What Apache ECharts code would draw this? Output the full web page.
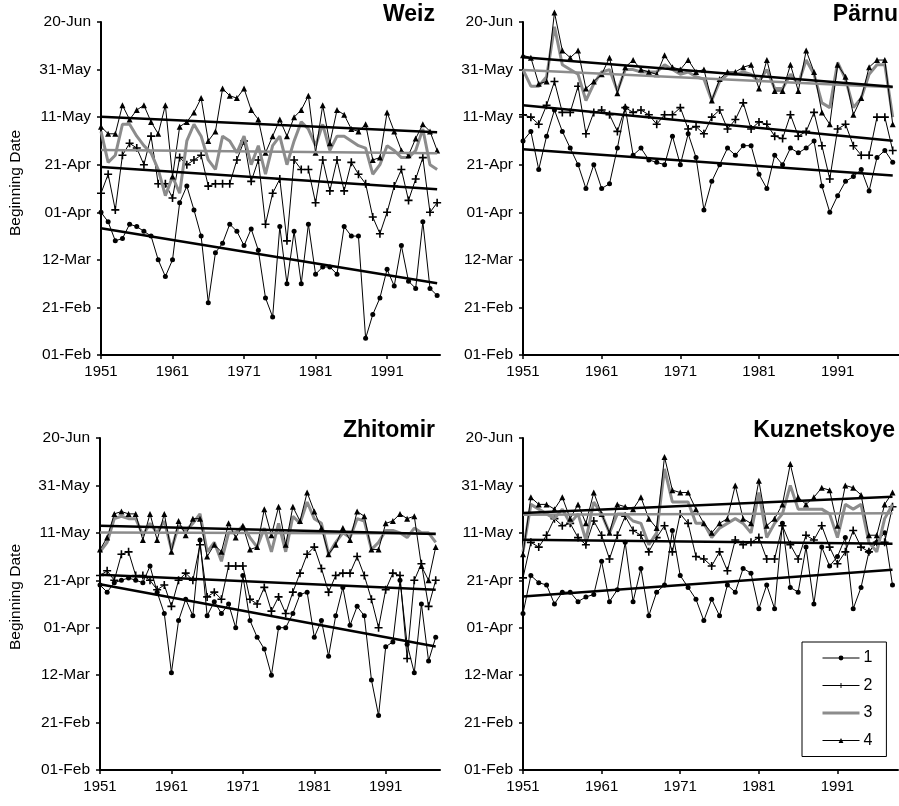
<!DOCTYPE html>
<html><head><meta charset="utf-8">
<script src="https://cdn.jsdelivr.net/npm/echarts@6/dist/echarts.min.js"></script>
<style>html,body{margin:0;padding:0;background:#fff}#c{width:899px;height:806px}</style>
</head><body><div id="c"></div>
<script>
const years = [1951,1952,1953,1954,1955,1956,1957,1958,1959,1960,1961,1962,1963,1964,1965,1966,1967,1968,1969,1970,1971,1972,1973,1974,1975,1976,1977,1978,1979,1980,1981,1982,1983,1984,1985,1986,1987,1988,1989,1990,1991,1992,1993,1994,1995,1996,1997,1998];
const dateLabels = ['01-Feb','21-Feb','12-Mar','01-Apr','21-Apr','11-May','31-May','20-Jun'];
const xTickYears = [1951,1961,1971,1981,1991];
const stationNames = ['Weiz','Pärnu','Zhitomir','Kuznetskoye'];
const seriesNames = ['1','2','3','4'];
const yAxisTitle = 'Beginning Date';

// values: days after 01-Feb
const weiz1 = [60,56,48,49,55,54,52,50,40,33,40,64,71,61,50,22,43,47,55,52,46,53,44,24,16,54,30,52,30,55,34,37,37,34,54,50,50,7,17,24,36,29,46,31,28,56,28,25];
const weiz2 = [68,76,61,84,89,87,80,92,72,72,66,83,80,82,84,71,72,72,72,82,90,73,82,55,68,74,48,82,78,78,64,82,69,82,69,81,76,72,58,51,60,71,78,65,74,83,60,64];
const weiz3 = [94,81,84,97,97,92,88,85,78,67,75,68,90,97,92,82,78,92,90,85,92,80,88,76,88,92,80,90,98,95,88,97,86,92,92,90,88,87,76,80,88,86,83,83,86,95,80,78];
const weiz4 = [96,93,93,105,99,103,105,98,93,105,75,96,98,102,108,90,94,112,109,108,112,103,99,85,92,99,92,100,103,109,85,105,89,103,101,95,94,97,82,83,102,94,86,84,91,97,94,86];
const weizTrend1 = [53.3,30.2], weizTrend2 = [79,69.7], weizTrend3 = [86.2,84.8], weizTrend4 = [100.2,93.7];

const parnu1 = [90,94,78,92,103,94,87,80,70,80,70,72,87,104,84,87,82,81,80,92,80,93,83,61,73,80,87,84,88,88,76,70,84,80,87,85,87,90,71,60,67,73,75,78,69,83,86,81];
const parnu2 = [101,100,97,105,115,102,102,113,93,102,103,101,94,104,102,103,101,97,101,101,104,95,96,93,100,103,95,99,106,95,98,97,92,91,101,92,94,102,88,74,95,97,88,84,84,100,100,86];
const parnu3 = [120,113,113,117,138,122,120,118,107,114,119,120,111,120,120,119,119,119,122,120,118,119,117,116,107,115,118,118,119,118,115,120,112,112,118,114,124,118,106,104,123,116,104,108,118,122,122,100];
const parnu4 = [126,125,114,115,144,128,125,128,112,115,118,125,110,121,124,120,119,118,126,121,120,124,119,120,107,116,119,119,121,122,112,124,111,111,122,111,128,119,102,97,122,117,101,108,121,124,124,97];
const parnuTrend1 = [86.5,75.5], parnuTrend2 = [105,90.1], parnuTrend3 = [119.8,112.6], parnuTrend4 = [125.2,112.8];

const zhit1 = [78,75,79,80,81,80,79,86,75,66,41,63,72,65,97,65,71,66,70,60,82,63,56,51,40,60,60,66,74,75,56,63,48,65,77,61,69,65,38,23,52,54,80,53,41,70,46,56];
const zhit2 = [82,84,80,91,92,82,82,80,76,78,69,80,83,80,95,73,75,72,86,86,86,72,70,77,67,73,66,75,83,91,94,85,75,82,83,83,90,82,72,60,76,83,82,47,80,87,69,80];
const zhit3 = [92,96,106,107,106,106,99,104,100,105,93,103,101,104,108,92,96,88,100,100,103,98,94,102,92,104,92,107,104,113,106,104,91,96,100,98,106,105,93,96,101,101,100,98,102,100,100,96];
const zhit4 = [93,98,108,109,108,108,97,108,97,108,92,105,99,106,106,90,95,92,104,98,103,93,94,110,99,111,95,111,105,117,109,102,91,95,102,97,109,107,93,93,104,105,108,106,107,86,80,94];
const zhitTrend1 = [78.3,52.1], zhitTrend2 = [82.3,76], zhitTrend3 = [100.2,99.7], zhitTrend4 = [103,99.5];

const kuzn1 = [66,82,79,78,70,75,75,71,73,74,88,71,76,96,71,85,65,75,78,101,82,77,72,63,72,65,78,75,85,83,68,78,68,104,77,75,94,70,94,86,90,98,68,77,92,96,100,78];
const kuzn2 = [81,96,94,99,106,103,104,98,95,105,99,89,99,107,101,99,92,98,103,92,108,104,90,89,86,92,84,97,95,96,98,89,89,103,95,89,99,97,103,94,87,92,101,94,92,96,96,111];
const kuzn3 = [92,112,110,108,106,110,104,108,97,113,108,100,108,108,105,104,95,100,127,113,113,113,104,104,98,102,104,106,104,100,117,98,104,108,120,110,110,110,110,108,98,112,110,112,96,92,106,112];
const kuzn4 = [91,115,112,112,110,115,106,112,104,117,108,100,112,111,110,115,106,102,132,118,117,117,110,104,100,104,106,120,106,104,122,103,106,112,129,115,112,115,119,118,103,120,119,116,99,99,112,117];
const kuznTrend1 = [73.2,84.4], kuznTrend2 = [97.1,95.4], kuznTrend3 = [107.6,108.3], kuznTrend4 = [108.4,115.2];

const panels = [
  {name: stationNames[0], s: [weiz1, weiz2, weiz3, weiz4], t: [weizTrend1, weizTrend2, weizTrend3, weizTrend4]},
  {name: stationNames[1], s: [parnu1, parnu2, parnu3, parnu4], t: [parnuTrend1, parnuTrend2, parnuTrend3, parnuTrend4]},
  {name: stationNames[2], s: [zhit1, zhit2, zhit3, zhit4], t: [zhitTrend1, zhitTrend2, zhitTrend3, zhitTrend4]},
  {name: stationNames[3], s: [kuzn1, kuzn2, kuzn3, kuzn4], t: [kuznTrend1, kuznTrend2, kuznTrend3, kuznTrend4]}
];

const FONT = '"Liberation Sans", Arial, sans-serif';
const GREY = '#8c8c8c';
const grids = [
  {left: 101, top: 22, width: 339, height: 333, xmax: 1998.4},
  {left: 523, top: 22, width: 376, height: 333, xmax: 1998.8},
  {left: 100, top: 438, width: 340, height: 332, xmax: 1998.6},
  {left: 523, top: 438, width: 375, height: 332, xmax: 1998.7}
];
const titlePos = [
  {right: 464, top: 3}, {right: 1, top: 3}, {right: 464, top: 419}, {right: 4, top: 419}
];
const yNamePos = [{x: 16, y: 183}, {x: 16, y: 597}];
const plusPath = 'path://M4,0H6V4H10V6H6V10H4V6H0V4H4Z';
const symbols = ['circle', plusPath, 'none', 'triangle'];
const symbolSizes = [5, 8, 0, 6];

const option = {
  animation: false,
  backgroundColor: '#fff',
  textStyle: {fontFamily: FONT},
  title: panels.map((p, i) => ({
    text: p.name, right: titlePos[i].right, top: titlePos[i].top, padding: 0,
    textStyle: {fontFamily: FONT, fontSize: 23, fontWeight: 'bold', color: '#000'}
  })),
  graphic: yNamePos.map(pos => ({
    type: 'text', x: pos.x, y: pos.y, rotation: Math.PI / 2,
    style: {text: yAxisTitle, font: '15.5px "Liberation Sans", Arial, sans-serif', fill: '#000',
      textAlign: 'center', textVerticalAlign: 'middle'}
  })),
  legend: {
    orient: 'vertical', left: 802, top: 642,
    data: seriesNames.map((n, k) => k === 2
      ? {name: n, itemStyle: {opacity: 0}, lineStyle: {width: 3}}
      : {name: n, lineStyle: {width: 1}}),
    itemWidth: 37, itemHeight: 6, itemGap: 11.5,
    padding: [8, 14, 8, 19],
    borderColor: '#000', borderWidth: 1, backgroundColor: '#fff',
    textStyle: {fontFamily: FONT, fontSize: 16, color: '#000', padding: [0, 0, 0, -1]},
    selectedMode: false
  },
  grid: grids.map(g => ({left: g.left, top: g.top, width: g.width, height: g.height, containLabel: false})),
  xAxis: grids.map((g, i) => ({
    type: 'value', gridIndex: i, min: 1951, max: g.xmax,
    axisLine: {lineStyle: {color: '#000', width: 2}},
    axisTick: {show: true, customValues: xTickYears, length: 4, lineStyle: {color: '#000', width: 1.5}},
    axisLabel: {customValues: xTickYears, color: '#000', fontSize: 15, fontFamily: FONT, margin: 9,
      formatter: v => String(Math.round(v))},
    splitLine: {show: false}
  })),
  yAxis: grids.map((g, i) => ({
    type: 'value', gridIndex: i, min: 0, max: 140, interval: 20,
    axisLine: {show: true, lineStyle: {color: '#000', width: 2}},
    axisTick: {show: true, length: 4, lineStyle: {color: '#000', width: 1.5}},
    axisLabel: {color: '#000', fontSize: 15.5, fontFamily: FONT, margin: 10,
      formatter: v => dateLabels[Math.round(v / 20)]},
    splitLine: {show: false}
  })),
  series: []
};

panels.forEach((p, i) => {
  p.s.forEach((vals, k) => {
    const isGrey = k === 2;
    option.series.push({
      type: 'line', name: seriesNames[k], xAxisIndex: i, yAxisIndex: i,
      data: years.map((y, j) => [y, vals[j]]),
      symbol: symbols[k], symbolSize: symbolSizes[k], showSymbol: !isGrey,
      clip: false, z: 2 + k * 0.1,
      itemStyle: {color: isGrey ? GREY : '#000'},
      lineStyle: {color: isGrey ? GREY : '#000', width: isGrey ? 3 : 1},
      emphasis: {disabled: true}
    });
  });
  p.t.forEach((tv, k) => {
    const isGrey = k === 2;
    option.series.push({
      type: 'line', name: 'trend', xAxisIndex: i, yAxisIndex: i,
      data: [[years[0], tv[0]], [years[years.length - 1], tv[1]]],
      symbol: 'none', clip: false, z: 3, silent: true,
      lineStyle: {color: isGrey ? GREY : '#000', width: 2.5},
      emphasis: {disabled: true}
    });
  });
});

const chart = echarts.init(document.getElementById('c'), null, {renderer: 'canvas'});
chart.setOption(option);
</script>
</body></html>
